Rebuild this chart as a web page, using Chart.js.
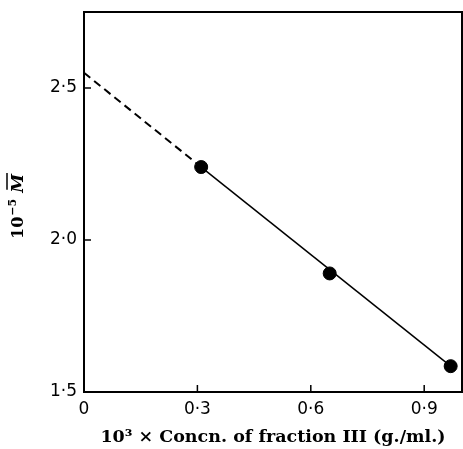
<!DOCTYPE html>
<html>
<head>
<meta charset="utf-8">
<script src="https://cdn.jsdelivr.net/npm/chart.js@4/dist/chart.umd.min.js"></script>
<style>
  html, body { margin: 0; padding: 0; background: #fff; overflow: hidden; }
  #wrap { width: 463px; height: 449px; }
  canvas { display: block; }
</style>
</head>
<body>
<div id="wrap"><canvas id="chart" width="463" height="449"></canvas></div>
<script>
// measured points: concentration (x 10^3 g/ml) vs 10^-5 M
const concn = [0.31, 0.65, 0.97];
const molWt = [2.24, 1.89, 1.585];

// fitted line (solid) and extrapolation to zero concentration (dashed)
const fitX = [0.31, 0.97];
const fitY = [2.24, 1.585];
const extrapX = [0, 0.31];
const extrapY = [2.55, 2.24];

const xTicks = [0, 0.3, 0.6, 0.9];
const xTickLabels = ["0", "0·3", "0·6", "0·9"];
const yTicks = [1.5, 2.0, 2.5];
const yTickLabels = ["1·5", "2·0", "2·5"];

const xTitle = "10³ × Concn. of fraction III (g./ml.)";

const serifBold = "'DejaVu Serif', 'Liberation Serif', serif";

function toPoints(xs, ys) {
  return xs.map(function (x, i) { return { x: x, y: ys[i] }; });
}

// frame round the plot, inward tick marks and the y-axis title
const framePlugin = {
  id: "frame",
  afterDraw: function (chart) {
    const ctx = chart.ctx;
    const a = chart.chartArea;
    const xs = chart.scales.x;
    const ys = chart.scales.y;
    ctx.save();
    ctx.strokeStyle = "#000";
    ctx.lineWidth = 2;
    ctx.strokeRect(a.left, a.top, a.right - a.left, a.bottom - a.top);

    ctx.lineWidth = 1.5;
    ctx.beginPath();
    xTicks.forEach(function (v) {
      if (v === 0) return;
      const px = xs.getPixelForValue(v);
      ctx.moveTo(px, a.bottom);
      ctx.lineTo(px, a.bottom - 7);
    });
    yTicks.forEach(function (v) {
      const py = ys.getPixelForValue(v);
      ctx.moveTo(a.left, py);
      ctx.lineTo(a.left + 7, py);
    });
    ctx.stroke();

    // y title: 10^-5 M-bar, rotated
    ctx.translate(23, 207);
    ctx.rotate(-Math.PI / 2);
    ctx.fillStyle = "#000";
    ctx.textBaseline = "alphabetic";
    ctx.textAlign = "left";
    const big = "bold 16px " + serifBold;
    const sup = "bold 11px " + serifBold;
    const ital = "bold italic 17px " + serifBold;
    ctx.font = big;
    const w1 = ctx.measureText("10").width;
    ctx.font = sup;
    const w2 = ctx.measureText("−5").width;
    ctx.font = ital;
    const w3 = ctx.measureText("M").width;
    const gap = 6;
    const total = w1 + w2 + gap + w3;
    let x0 = -total / 2;
    ctx.font = big;
    ctx.fillText("10", x0, 0);
    x0 += w1 + 1;
    ctx.font = sup;
    ctx.fillText("−5", x0, -7);
    x0 += w2 + gap;
    ctx.font = ital;
    ctx.fillText("M", x0, 0);
    ctx.lineWidth = 1.5;
    ctx.beginPath();
    ctx.moveTo(x0 + 3, -16);
    ctx.lineTo(x0 + w3 + 1, -16);
    ctx.stroke();
    ctx.restore();
  }
};

document.addEventListener("DOMContentLoaded", function () {
  const canvas = document.getElementById("chart");

  new Chart(canvas, {
    type: "scatter",
    data: {
      datasets: [
        {
          data: toPoints(extrapX, extrapY),
          showLine: true,
          borderColor: "#000",
          borderWidth: 2,
          borderDash: [8, 5],
          pointRadius: 0
        },
        {
          data: toPoints(fitX, fitY),
          showLine: true,
          borderColor: "#000",
          borderWidth: 1.5,
          pointRadius: 0
        },
        {
          data: toPoints(concn, molWt),
          showLine: false,
          backgroundColor: "#000",
          borderColor: "#000",
          pointRadius: 6.5,
          pointHoverRadius: 6.5
        }
      ]
    },
    options: {
      responsive: false,
      animation: false,
      layout: {
        autoPadding: false,
        padding: { left: 0, right: 1, top: 12, bottom: 0 }
      },
      plugins: {
        legend: { display: false },
        tooltip: { enabled: false }
      },
      scales: {
        x: {
          type: "linear",
          min: 0,
          max: 1.0,
          afterBuildTicks: function (scale) {
            scale.ticks = xTicks.map(function (v) { return { value: v }; });
          },
          afterFit: function (scale) {
            scale.height = 57;
            scale.paddingLeft = 0;
            scale.paddingRight = 0;
          },
          grid: { display: false, drawTicks: false },
          border: { display: false },
          ticks: {
            padding: 7,
            color: "#000",
            font: { family: "'DejaVu Sans', sans-serif", size: 17 },
            callback: function (v) {
              const i = xTicks.indexOf(v);
              return i >= 0 ? xTickLabels[i] : "";
            }
          },
          title: {
            display: true,
            text: xTitle,
            color: "#000",
            padding: { top: 0, bottom: 1 },
            font: { family: serifBold, size: 17.5, weight: "bold" }
          }
        },
        y: {
          type: "linear",
          min: 1.5,
          max: 2.75,
          afterBuildTicks: function (scale) {
            scale.ticks = yTicks.map(function (v) { return { value: v }; });
          },
          afterFit: function (scale) {
            scale.width = 84;
            scale.paddingTop = 0;
            scale.paddingBottom = 0;
          },
          grid: { display: false, drawTicks: false },
          border: { display: false },
          ticks: {
            padding: 7,
            color: "#000",
            font: { family: "'DejaVu Sans', sans-serif", size: 17 },
            callback: function (v) {
              const i = yTicks.indexOf(v);
              return i >= 0 ? yTickLabels[i] : "";
            }
          }
        }
      }
    },
    plugins: [framePlugin]
  });
});
</script>
</body>
</html>
